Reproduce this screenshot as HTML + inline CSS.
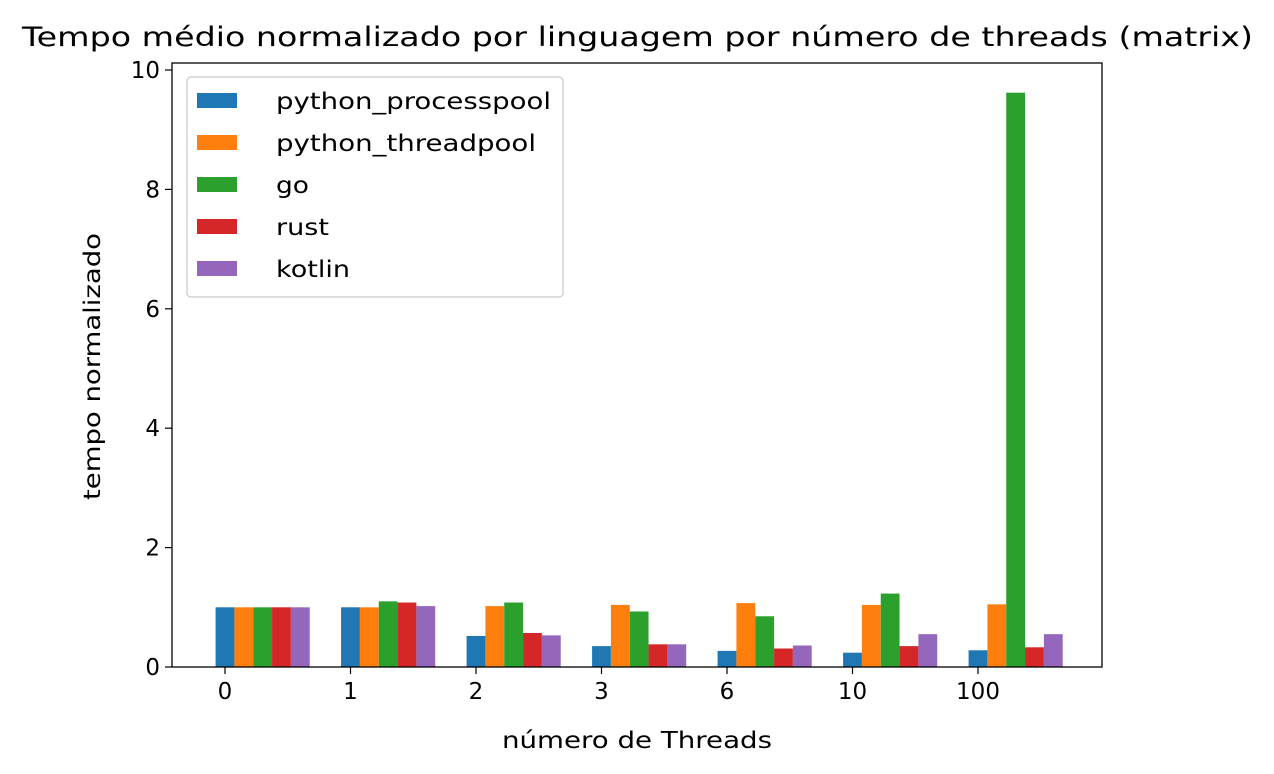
<!DOCTYPE html>
<html><head><meta charset="utf-8"><style>
body{margin:0;background:#fff;}
svg{display:block;font-family:"DejaVu Sans","Liberation Sans",sans-serif;}
</style></head><body>
<svg id="chart" width="1274" height="774"></svg>
<script>
const categories=["0","1","2","3","6","10","100"];
const seriesNames=["python_processpool","python_threadpool","go","rust","kotlin"];
const processpool=[1,1,0.52,0.35,0.27,0.24,0.28];
const threadpool=[1,1,1.02,1.04,1.07,1.04,1.05];
const goVals=[1,1.1,1.08,0.93,0.85,1.23,9.62];
const rustVals=[1,1.08,0.57,0.38,0.31,0.35,0.33];
const kotlinVals=[1,1.02,0.53,0.38,0.36,0.55,0.55];
const yTicks=[0,2,4,6,8,10];
const series=[processpool,threadpool,goVals,rustVals,kotlinVals];
const colors=["#1f77b4","#ff7f0e","#2ca02c","#d62728","#9467bd"];
const legendLens=[275,260,33,53,74];
const NS="http://www.w3.org/2000/svg";
const svg=document.getElementById('chart');
const L=172,R=1102,T=63,B=667;
const xs=i=>225+i*125.5;
const ys=v=>B-v*59.7;
const bw=0.15*125.5;
function mk(tag,attrs,parent){const e=document.createElementNS(NS,tag);for(const k in attrs)e.setAttribute(k,attrs[k]);(parent||svg).appendChild(e);return e;}
series.forEach((vals,s)=>{vals.forEach((v,i)=>{
 const r=mk('rect',{x:xs(i)+s*bw-bw/2,y:ys(v),width:bw,height:B-ys(v),fill:colors[s]});
 
 
});});
const frame=mk('rect',{x:L,y:T,width:R-L,height:B-T,fill:'none',stroke:'#000','stroke-width':1.3});


categories.forEach((c,i)=>{
 mk('line',{x1:xs(i),x2:xs(i),y1:B,y2:B+7,stroke:'#000','stroke-width':1.2});
 const t=mk('text',{x:xs(i),y:B+32,'text-anchor':'middle','font-size':23});t.textContent=c;
 
 
});
yTicks.forEach(v=>{
 mk('line',{x1:L-7,x2:L,y1:ys(v),y2:ys(v),stroke:'#000','stroke-width':1.2});
 const t=mk('text',{x:L-12,y:ys(v)+8,'text-anchor':'end','font-size':23});t.textContent=v;
 
 
});
const title=mk('text',{x:22,y:46,'font-size':27,textLength:1231,lengthAdjust:'spacingAndGlyphs'});title.textContent="Tempo médio normalizado por linguagem por número de threads (matrix)";


const xt=mk('text',{x:502,y:748,'font-size':23,textLength:270,lengthAdjust:'spacingAndGlyphs'});xt.textContent="número de Threads";


const yt=mk('text',{x:-500,y:100,'font-size':23,textLength:267,lengthAdjust:'spacingAndGlyphs',transform:'rotate(-90)'});yt.textContent="tempo normalizado";


const lg=mk('g',{});


mk('rect',{x:187,y:77,width:376,height:220,rx:4,fill:'#fff','fill-opacity':0.8,stroke:'#ccc','stroke-width':1.3},lg);
seriesNames.forEach((n,s)=>{
 const y=101+s*42;
 const sw=mk('rect',{x:197,y:y-8,width:40,height:15,fill:colors[s]},lg);
 
 
 const t=mk('text',{x:276,y:y+8,'font-size':23,textLength:legendLens[s],lengthAdjust:'spacingAndGlyphs'},lg);t.textContent=n;
 
 
});
</script>
</body></html>
